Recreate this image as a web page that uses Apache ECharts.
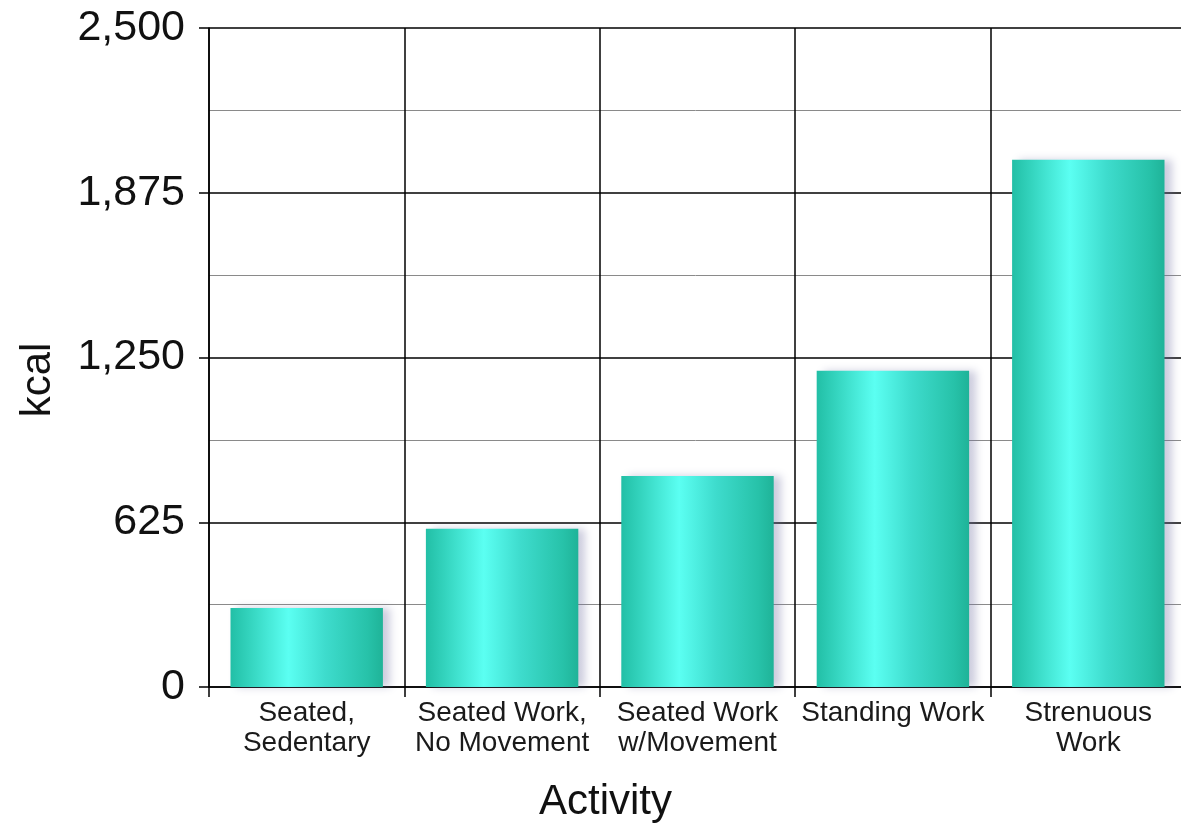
<!DOCTYPE html>
<html>
<head>
<meta charset="utf-8">
<title>Daily energy expenditure by activity</title>
<script src="https://cdn.jsdelivr.net/npm/echarts@6/dist/echarts.min.js"></script>
<style>
  html, body { margin: 0; padding: 0; background: #ffffff; overflow: hidden; }
  #chart { width: 1181px; height: 823px; }
</style>
</head>
<body>
<div id="chart"></div>
<script>
// Activity categories (line breaks as shown under each bar)
const categories = [
  'Seated,\nSedentary',
  'Seated Work,\nNo Movement',
  'Seated Work\nw/Movement',
  'Standing Work',
  'Strenuous\nWork'
];

// Energy use per activity, kcal
const kcalValues = [300, 600, 800, 1200, 2000];

// Value axis range and step
const yMin = 0;
const yMax = 2500;
const yStep = 625;

const FONT = '"Liberation Sans", Arial, sans-serif';

// Cylinder-like shading across each bar
const barFill = new echarts.graphic.LinearGradient(0, 0, 1, 0, [
  { offset: 0.00, color: '#22bfa6' },
  { offset: 0.12, color: '#33d3bd' },
  { offset: 0.38, color: '#5bfff2' },
  { offset: 0.62, color: '#3edccd' },
  { offset: 0.90, color: '#27c2a9' },
  { offset: 1.00, color: '#1fb398' }
]);

const chart = echarts.init(document.getElementById('chart'), null, { renderer: 'canvas' });

chart.setOption({
  backgroundColor: '#ffffff',
  animation: false,
  // plot area runs slightly past the right edge of the canvas
  grid: {
    left: 209, width: 977, top: 28, bottom: 136,
    containLabel: false,
    outerBoundsMode: 'none'
  },
  xAxis: {
    type: 'category',
    data: categories,
    boundaryGap: true,
    name: 'Activity',
    nameLocation: 'middle',
    nameGap: 94,
    nameTextStyle: { fontFamily: FONT, fontSize: 42, color: '#111111', padding: [0, 184, 0, 0] },
    axisLine: { show: true, lineStyle: { color: '#000000', width: 1.5 } },
    axisTick: { show: true, alignWithLabel: false, length: 10, lineStyle: { color: '#000000', width: 1.5 } },
    axisLabel: {
      margin: 11,
      fontFamily: FONT,
      fontSize: 28,
      lineHeight: 30,
      color: '#1a1a1a',
      interval: 0
    },
    splitLine: { show: true, lineStyle: { color: '#000000', width: 1.5 } }
  },
  yAxis: {
    type: 'value',
    min: yMin,
    max: yMax,
    interval: yStep,
    name: 'kcal',
    nameLocation: 'middle',
    nameGap: 150,
    nameTextStyle: { fontFamily: FONT, fontSize: 42, color: '#111111', padding: [0, 45, 0, 0] },
    axisLine: { show: true, lineStyle: { color: '#000000', width: 1.5 } },
    axisTick: { show: true, length: 10, lineStyle: { color: '#000000', width: 1.5 } },
    axisLabel: {
      margin: 24,
      fontFamily: FONT,
      fontSize: 43,
      color: '#111111',
      formatter: v => v.toLocaleString('en-US')
    },
    splitLine: { show: true, lineStyle: { color: '#000000', width: 1.5 } },
    minorTick: { show: false, splitNumber: 2 },
    minorSplitLine: { show: true, lineStyle: { color: '#8a8a8a', width: 1 } }
  },
  series: [{
    type: 'bar',
    data: kcalValues,
    barWidth: '78%',
    itemStyle: {
      color: barFill,
      shadowColor: 'rgba(110, 110, 160, 0.35)',
      shadowBlur: 8,
      shadowOffsetX: 7,
      shadowOffsetY: 0
    },
    z: 3
  }]
});
</script>
</body>
</html>
